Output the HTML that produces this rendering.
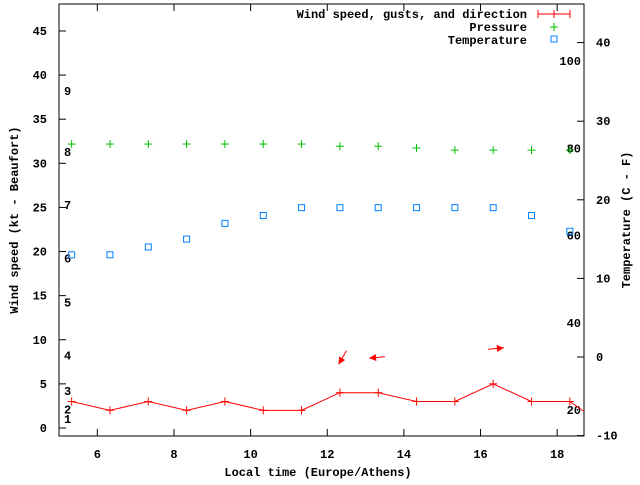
<!DOCTYPE html>
<html><head><meta charset="utf-8"><style>
body{margin:0;background:#fff}
svg text{font-family:"Liberation Mono","DejaVu Sans Mono",monospace;font-size:12px;font-weight:bold;fill:#000}
</style></head><body>
<svg id="chart" width="640" height="480" viewBox="0 0 640 480" xmlns="http://www.w3.org/2000/svg">
<rect x="0" y="0" width="640" height="480" fill="#fff"/>
<g id="grid"></g>
<rect x="59" y="4" width="525" height="432" fill="none" stroke="#000" stroke-width="1"/>
<text x="318" y="476" text-anchor="middle">Local time (Europe/Athens)</text>
<text transform="translate(18,220) rotate(-90)" text-anchor="middle">Wind speed (kt - Beaufort)</text>
<text transform="translate(630,220) rotate(-90)" text-anchor="middle">Temperature (C - F)</text>
<g id="legend">
<text x="527" y="18" text-anchor="end">Wind speed, gusts, and direction</text>
<g stroke="red" stroke-width="1"><line x1="538" y1="14" x2="570" y2="14"/><line x1="538" y1="10" x2="538" y2="18"/><line x1="570" y1="10" x2="570" y2="18"/><line x1="554" y1="10" x2="554" y2="18"/></g>
<text x="527" y="31" text-anchor="end">Pressure</text>
<g stroke="#00c000"><line x1="550" y1="27" x2="558" y2="27"/><line x1="554" y1="23" x2="554" y2="31"/></g>
<text x="527" y="44" text-anchor="end">Temperature</text>
<rect x="551" y="36" width="6" height="6" fill="none" stroke="#0080ff"/>
</g>
<g id="marks"></g>
</svg>
<script>
const hours=[5.33,6.33,7.33,8.33,9.33,10.33,11.33,12.33,13.33,14.33,15.33,16.33,17.33,18.33,19.33];
const wind=[3,2,3,2,3,2,2,4,4,3,3,5,3,3,0];
const pressure=[81,81,81,81,81,81,81,80.5,80.5,80.1,79.6,79.6,79.6,79.6];
const temperature=[13,13,14,15,17,18,19,19,19,19,19,19,18,16];
const arrowHours=[12.4,13.3,16.4];
const arrowDirs=[210,265,85];
const arrowSpeeds=[8,8,9];
const xTicks=[6,8,10,12,14,16,18];
const yTicks=[0,5,10,15,20,25,30,35,40,45];
const y2Ticks=[-10,0,10,20,30,40];
const beaufortLabels=["1","2","3","4","5","6","7","8","9"];
const beaufortKt=[1,2.1,4.2,8.2,14.2,19.2,25.3,31.3,38.2];
const pressureLabels=[20,40,60,80,100];

const NS="http://www.w3.org/2000/svg";
const X=h=>59+(h-5)*(525/13.7);
const Y=v=>436.8-(v+1)*(432.3/49);
const Y2=t=>357-t*7.86;
const YP=p=>410-(p-20)*4.36;
const grid=document.getElementById('grid'),marks=document.getElementById('marks');
function mk(tag,attrs,parent){const e=document.createElementNS(NS,tag);for(const k in attrs)e.setAttribute(k,attrs[k]);parent.appendChild(e);return e;}

xTicks.forEach(t=>{
  const g=mk('g',{},grid);
  
  
  mk('line',{x1:X(t),x2:X(t),y1:436,y2:429,stroke:'#000'},g);
  mk('line',{x1:X(t),x2:X(t),y1:4,y2:11,stroke:'#000'},g);
  const tx=mk('text',{x:X(t),y:458,'text-anchor':'middle'},g);tx.textContent=t;
});
yTicks.forEach(t=>{
  const g=mk('g',{},grid);
  
  
  mk('line',{x1:59,x2:66,y1:Y(t),y2:Y(t),stroke:'#000'},g);
  const tx=mk('text',{x:47,y:Y(t)+4,'text-anchor':'end'},g);tx.textContent=t;
});
y2Ticks.forEach(t=>{
  const g=mk('g',{},grid);
  
  
  mk('line',{x1:584,x2:577,y1:Y2(t),y2:Y2(t),stroke:'#000'},g);
  const tx=mk('text',{x:596,y:Y2(t)+4,'text-anchor':'start'},g);tx.textContent=t;
});
beaufortLabels.forEach((b,i)=>{
  const tx=mk('text',{x:64,y:Y(beaufortKt[i])+4},grid);
  
  
  tx.textContent=b;
});
pressureLabels.forEach(p=>{
  const tx=mk('text',{x:581,y:YP(p)+4,'text-anchor':'end'},grid);
  
  
  tx.textContent=p;
});
// clip
const defs=mk('defs',{},document.getElementById('chart'));
const cp=mk('clipPath',{id:'pc'},defs);mk('rect',{x:59,y:4,width:525,height:432},cp);
marks.setAttribute('clip-path','url(#pc)');
// wind line
const wl=mk('polyline',{points:wind.map((w,i)=>X(hours[i])+','+Y(w)).join(' '),fill:'none',stroke:'red','stroke-width':1},marks);


wind.forEach((w,i)=>{
  const g=mk('g',{stroke:'red'},marks);
  
  
  mk('line',{x1:X(hours[i])-4,x2:X(hours[i])+4,y1:Y(w),y2:Y(w)},g);
  mk('line',{x1:X(hours[i]),x2:X(hours[i]),y1:Y(w)-4,y2:Y(w)+4},g);
});
pressure.forEach((p,i)=>{
  const g=mk('g',{stroke:'#00c000'},marks);
  
  
  mk('line',{x1:X(hours[i])-4,x2:X(hours[i])+4,y1:YP(p),y2:YP(p)},g);
  mk('line',{x1:X(hours[i]),x2:X(hours[i]),y1:YP(p)-4,y2:YP(p)+4},g);
});
temperature.forEach((t,i)=>{
  const r=mk('rect',{x:X(hours[i])-3,y:Y2(t)-3,width:6,height:6,fill:'none',stroke:'#0080ff'},marks);
  
  
});
arrowHours.forEach((h,i)=>{
  const cx=X(h),cy=Y(arrowSpeeds[i]);
  const a=arrowDirs[i]*Math.PI/180, len=16;
  const dx=Math.sin(a),dy=-Math.cos(a);
  const x1=cx-dx*len/2,y1=cy-dy*len/2,x2=cx+dx*len/2,y2=cy+dy*len/2;
  const g=mk('g',{},marks);
  
  
  mk('line',{x1:x1,y1:y1,x2:x2,y2:y2,stroke:'red'},g);
  const px=-dy,py=dx;
  mk('polygon',{points:`${x2},${y2} ${x2-dx*7+px*3.5},${y2-dy*7+py*3.5} ${x2-dx*7-px*3.5},${y2-dy*7-py*3.5}`,fill:'red'},g);
});
</script>
</body></html>
